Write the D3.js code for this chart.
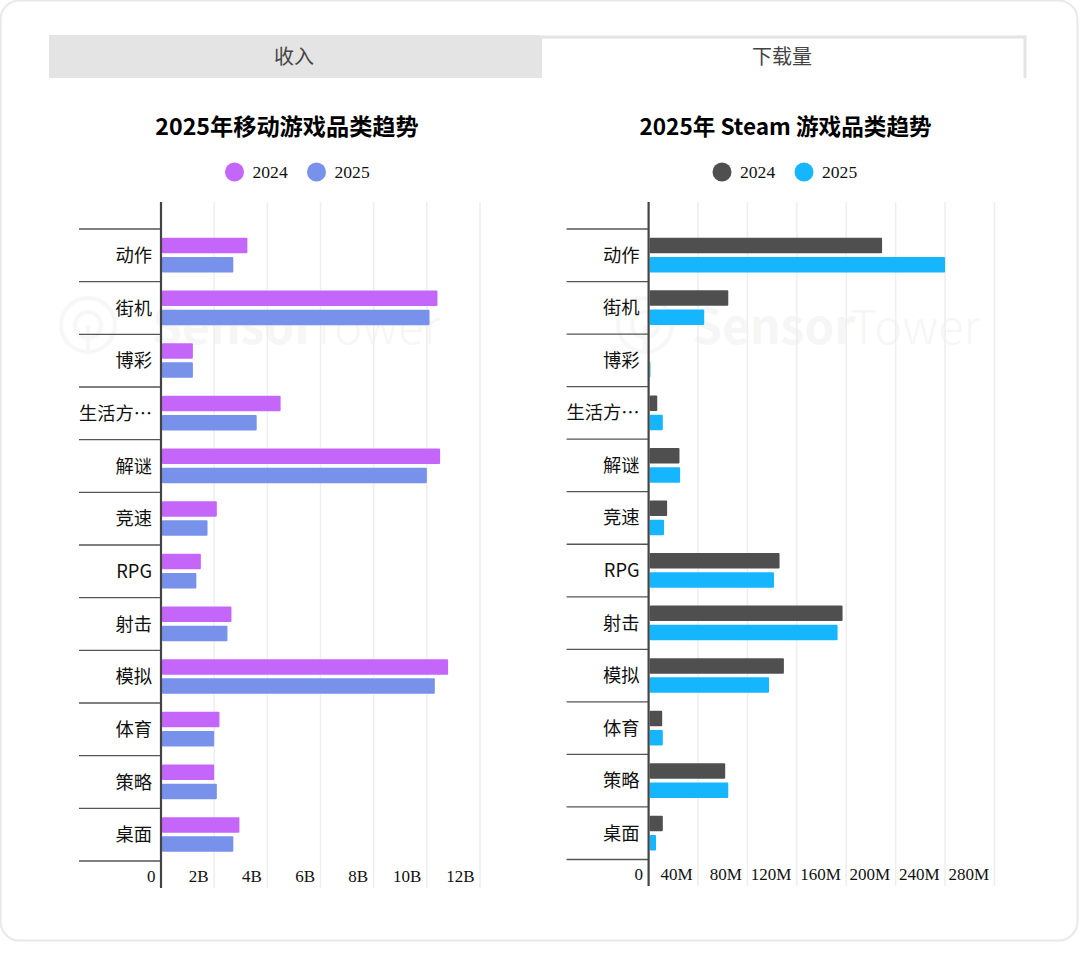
<!DOCTYPE html>
<html><head><meta charset="utf-8">
<script src="https://cdn.jsdelivr.net/npm/d3@7/dist/d3.min.js"></script>
<style>
html,body{margin:0;padding:0;background:#fff;overflow:hidden}
svg{display:block}
text{font-family:"Noto Sans CJK SC","Noto Sans",sans-serif}
.num{font-family:"Liberation Serif",serif}
</style></head><body>
<svg id="c" width="1080" height="957"></svg>
<script>
const tabLabels = ["收入", "下载量"];
const categories = ["动作","街机","博彩","生活方式","解谜","竞速","RPG","射击","模拟","体育","策略","桌面"];
const seriesNames = ["2024","2025"];
const mobile2024 = [3.25,10.4,1.2,4.5,10.5,2.1,1.5,2.65,10.8,2.2,2.0,2.95];
const mobile2025 = [2.72,10.1,1.2,3.6,10.0,1.75,1.33,2.5,10.3,2.0,2.1,2.72];
const steam2024 = [189,64.5,0.5,7,25,15,106,157,109.5,11,62,11.5];
const steam2025 = [240,45,1.5,11.5,25.5,12.5,101.5,153,97.5,11.5,64.5,6];
const mobileTicks = [0,2,4,6,8,10,12];
const steamTicks = [0,40,80,120,160,200,240,280];
const mobileTitle = "2025年移动游戏品类趋势";
const steamTitle = "2025年 Steam 游戏品类趋势";
const watermarkA = "Sensor";
const watermarkB = "Tower";

const svg = d3.select("#c");
svg.append("rect").attr("x",0.5).attr("y",0.5).attr("width",1077).attr("height",940).attr("rx",19)
  .attr("fill","#fff").attr("stroke","#e8e8e8").attr("stroke-width",2);

// tabs
svg.append("rect").attr("x",49).attr("y",35).attr("width",491).attr("height",43).attr("fill","#e4e4e4");
svg.append("path").attr("d","M540.5,78V37H1025V78").attr("fill","#fff").attr("stroke","#e4e4e4").attr("stroke-width",3);
svg.append("text").attr("x",294).attr("y",63.5).attr("text-anchor","middle").attr("font-size",20).attr("fill","#444").text(tabLabels[0]);
svg.append("text").attr("x",782).attr("y",63.5).attr("text-anchor","middle").attr("font-size",20).attr("fill","#444").text(tabLabels[1]);

function panel(o){
  const g = svg.append("g");
  // watermark
  const wm = g.append("g").attr("opacity",0.045);
  wm.append("circle").attr("cx",o.wmLogo).attr("cy",325).attr("r",27).attr("fill","none").attr("stroke","#666").attr("stroke-width",4);
  wm.append("circle").attr("cx",o.wmLogo).attr("cy",325).attr("r",13).attr("fill","none").attr("stroke","#666").attr("stroke-width",4);
  wm.append("line").attr("x1",o.wmLogo).attr("x2",o.wmLogo).attr("y1",325).attr("y2",350).attr("stroke","#666").attr("stroke-width",4);
  wm.append("text").attr("x",o.wmText).attr("y",344).attr("font-size",48).attr("fill","#444")
    .attr("font-family","Roboto").attr("font-weight",700).text(watermarkA);
  wm.append("text").attr("x",o.wmText+158).attr("y",344).attr("font-size",47).attr("fill","#444")
    .attr("font-family","Roboto").attr("font-weight",300).text(watermarkB);

  g.append("text").attr("x",o.titleX).attr("y",135).attr("text-anchor","middle").attr("font-size",o.titleSize).attr("font-weight",700).attr("fill","#000").text(o.title);

  // legend
  seriesNames.forEach((n,i)=>{
    g.append("circle").attr("cx",o.legX[i]).attr("cy",172).attr("r",9.5).attr("fill",o.colors[i]);
    g.append("text").attr("class","num").attr("x",o.legX[i]+18).attr("y",178).attr("font-size",17.6).attr("fill","#111").text(n);
  });

  const x = d3.scaleLinear().domain(o.domain).range([o.x0,o.x1]);
  const y = d3.scaleBand().domain(categories).range([229,o.yEnd]);

  // grid + x axis
  const xAxis = d3.axisBottom(x).tickValues(o.ticks).tickSize(0).tickFormat(o.fmt);
  const ax = g.append("g").attr("transform",`translate(0,${o.yLabel})`).call(xAxis);
  ax.select(".domain").remove();
  ax.selectAll("text").attr("class","num").attr("text-anchor","end").attr("dx",-6).attr("y",0).attr("dy",5.5)
    .attr("font-size",17).attr("font-family","Liberation Serif").attr("fill","#111");
  g.selectAll("line.grid").data(o.ticks.slice(1)).join("line").attr("class","grid")
    .attr("x1",d=>x(d)).attr("x2",d=>x(d)).attr("y1",202).attr("y2",o.axisEnd)
    .attr("stroke","#eeeeee").attr("stroke-width",1.5);

  // bars
  const h = 15.5;
  [o.a,o.b].forEach((vals,s)=>{
    g.selectAll(null).data(vals).join("rect")
      .attr("x",x(0)+1).attr("y",(d,i)=>y(categories[i])+8.8+s*19.2)
      .attr("width",d=>Math.max(0,x(d)-x(0)-1)).attr("height",h).attr("rx",1)
      .attr("fill",o.colors[s]);
  });

  // category ticks & labels
  const rows = categories.concat([null]);
  g.selectAll("line.cat").data(rows).join("line").attr("class","cat")
    .attr("x1",o.x0-82).attr("x2",o.x0)
    .attr("y1",(d,i)=>d?y(d):o.yEnd).attr("y2",(d,i)=>d?y(d):o.yEnd)
    .attr("stroke","#555").attr("stroke-width",1.3);
  g.selectAll("text.cat").data(categories).join("text").attr("class","cat")
    .attr("x",o.x0-9).attr("y",d=>y(d)+y.bandwidth()/2+6.5)
    .attr("text-anchor","end").attr("font-size",18.3).attr("fill","#111")
    .text(d=>d.length>3?d.slice(0,3)+"…":d);

  g.append("line").attr("x1",o.x0).attr("x2",o.x0).attr("y1",202).attr("y2",o.axisEnd)
    .attr("stroke","#444").attr("stroke-width",2.2);
}

panel({title:mobileTitle,titleX:287,titleSize:23.2,legX:[234.5,316.5],colors:["#c566fb","#7891ea"],
  x0:161,x1:480,domain:[0,12],ticks:mobileTicks,fmt:d=>d===0?"0":d+"B",a:mobile2024,b:mobile2025,
  yEnd:861,yLabel:876,axisEnd:888,wmLogo:88,wmText:152});
panel({title:steamTitle,titleX:785.5,titleSize:22.6,legX:[722,804],colors:["#4f4f4f","#16b6ff"],
  x0:648.6,x1:994.5,domain:[0,280],ticks:steamTicks,fmt:d=>d===0?"0":d+"M",a:steam2024,b:steam2025,
  yEnd:859.5,yLabel:874,axisEnd:886,wmLogo:645,wmText:692});
</script>
</body></html>
